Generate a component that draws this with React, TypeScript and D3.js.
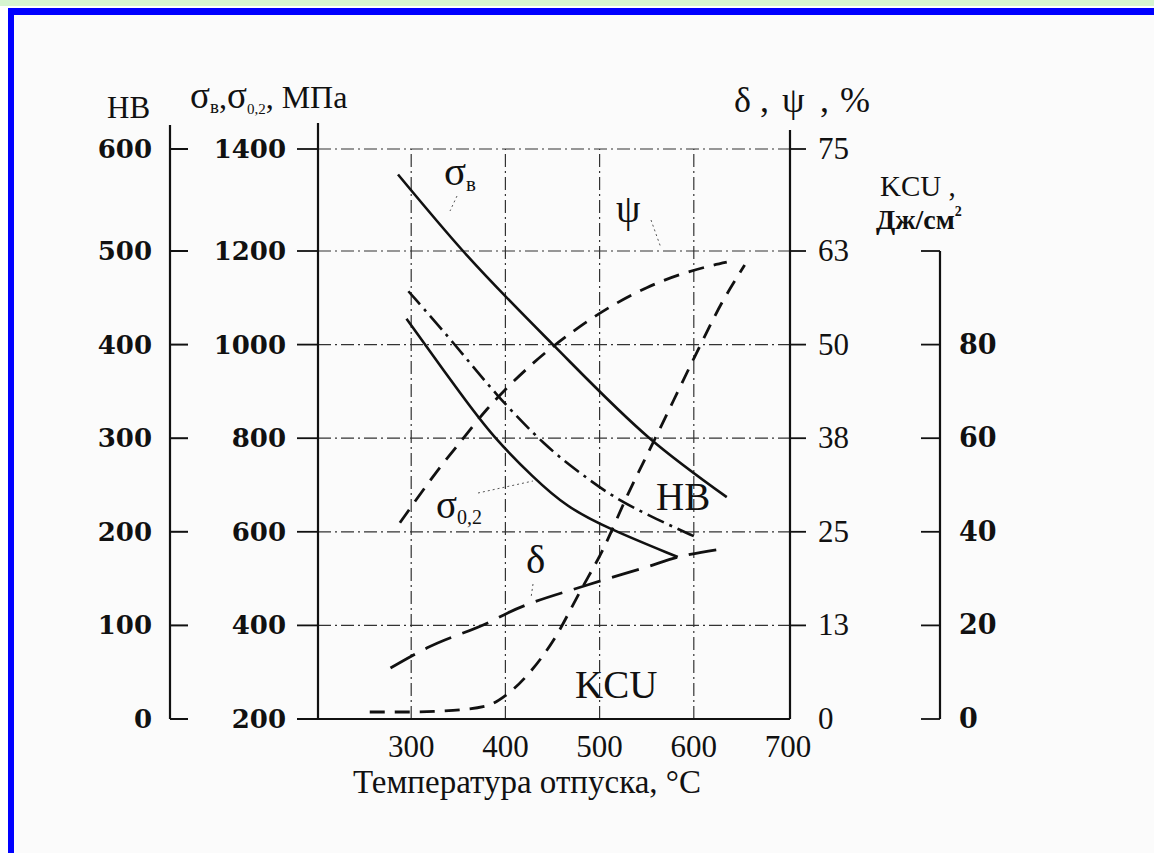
import React from 'react';
import * as d3 from 'd3';

// ---------- data ----------
const tempTicks = [300, 400, 500, 600, 700];
const gridTemps = [300, 400, 500, 600];
const sigmaTicks = [200, 400, 600, 800, 1000, 1200, 1400];
const hbTicks = [0, 100, 200, 300, 400, 500, 600];
const pctTicks = [0, 12.5, 25, 37.5, 50, 62.5, 75];
const pctTickLabels = ['0', '13', '25', '38', '50', '63', '75'];
const kcuTicks = [0, 20, 40, 60, 80, 100];
const kcuTickLabels = ['0', '20', '40', '60', '80', ''];

// [temperature °C, value]
const sigmaB: [number, number][] = [[286, 1350], [355, 1200], [450, 1001], [553, 800], [635, 674]];
const sigma02: [number, number][] = [[295, 1055], [357, 882], [387, 803], [429, 717], [465, 653], [508, 608], [583, 546]];
const hb: [number, number][] = [[297, 457], [346, 401], [390, 346], [444, 290], [479, 263], [514, 237], [561, 213], [603, 194]];
const delta: [number, number][] = [[278, 6.8], [317, 9.5], [384, 13.0], [403, 14.2], [487, 17.9], [550, 20.3], [583, 21.6], [635, 22.8]];
const psi: [number, number][] = [[288, 26.2], [327, 33.0], [354, 37.3], [380, 41.3], [424, 46.9], [479, 52.4], [550, 57.6], [614, 60.4], [635, 61.0]];
const kcu: [number, number][] = [[256, 1.5], [300, 1.5], [340, 1.8], [380, 2.8], [400, 5], [426, 10], [450, 16.5], [480, 27.5], [503, 36], [530, 48], [564, 62], [600, 77], [630, 89], [654, 97]];

// ---------- layout ----------
const W = 1154;
const H = 853;
const X0 = 317;
const X1 = 788;
const YB = 719;
const Y5 = 251;
const YT = 149;

const x = d3.scaleLinear().domain([200, 700]).range([X0, X1]);
const ySigma = d3.scaleLinear().domain([200, 1200, 1400]).range([YB, Y5, YT]);
const yHB = d3.scaleLinear().domain([0, 500, 600]).range([YB, Y5, YT]);
const yPct = d3.scaleLinear().domain([0, 62.5, 75]).range([YB, Y5, YT]);
const yKcu = d3.scaleLinear().domain([0, 100]).range([YB, Y5]);

const serif = '"Liberation Serif", "Times New Roman", serif';
const wide = '"DejaVu Serif", serif';

function mk(yScale: d3.ScaleLinear<number, number>, curve: d3.CurveFactory = d3.curveMonotoneX) {
  return d3
    .line<[number, number]>()
    .x((d) => x(d[0]))
    .y((d) => yScale(d[1]))
    .curve(curve);
}

export default function App() {
  const ink = '#111';
  const AX_HB = 170;
  const AX_S = 318;
  const AX_R = 790;
  const AX_K = 940;
  const gridDash = '13 4 2 4';
  return (
    <svg width={W} height={H} style={{ position: 'absolute', left: 0, top: 0 }} fontFamily={serif}>
      <rect x={0} y={0} width={W} height={H} fill="#fbfbfb" />
      <rect x={0} y={0} width={W} height={6} fill="#d6f5d0" />
      <rect x={0} y={6} width={W} height={2} fill="#ffffff" />
      <rect x={0} y={8} width={8} height={H} fill="#ffffff" />
      <rect x={8} y={8} width={W - 8} height={7} fill="#0000ff" />
      <rect x={8} y={8} width={6} height={H - 8} fill="#0000ff" />

      {/* horizontal grid */}
      {sigmaTicks.slice(1).map((t) => (
        <line key={'hg' + t} x1={AX_S} x2={AX_R} y1={ySigma(t)} y2={ySigma(t)} stroke="#333" strokeWidth={1.2} strokeDasharray={gridDash} />
      ))}
      {/* vertical grid */}
      {gridTemps.map((t) => (
        <line key={'vg' + t} x1={x(t)} x2={x(t)} y1={YB} y2={YT} stroke="#333" strokeWidth={1.2} strokeDasharray={gridDash} />
      ))}

      {/* HB axis */}
      <line x1={AX_HB} x2={AX_HB} y1={125} y2={YB} stroke={ink} strokeWidth={2.2} />
      {hbTicks.map((t) => (
        <g key={'hb' + t}>
          <line x1={AX_HB} x2={AX_HB + 18} y1={yHB(t)} y2={yHB(t)} stroke={ink} strokeWidth={2} />
          <text x={152} y={yHB(t) + 9} textAnchor="end" fontFamily={wide} fontWeight="bold" fontSize={26} fill={ink}>{t}</text>
        </g>
      ))}

      {/* sigma axis */}
      <line x1={AX_S} x2={AX_S} y1={123} y2={YB} stroke={ink} strokeWidth={2.2} />
      {sigmaTicks.map((t) => (
        <g key={'s' + t}>
          <line x1={AX_S - 21} x2={AX_S} y1={ySigma(t)} y2={ySigma(t)} stroke={ink} strokeWidth={1.8} />
          <text x={286} y={ySigma(t) + 9} textAnchor="end" fontFamily={wide} fontWeight="bold" fontSize={26} fill={ink}>{t}</text>
        </g>
      ))}

      {/* bottom axis */}
      <line x1={AX_S - 21} x2={AX_R} y1={YB} y2={YB} stroke={ink} strokeWidth={2.2} />
      {tempTicks.map((t) => (
        <text key={'xt' + t} x={x(t)} y={757} textAnchor="middle" fontSize={31} fill={ink}>{t}</text>
      ))}
      <text x={527} y={793} textAnchor="middle" fontSize={33} fill={ink}>Температура отпуска, °C</text>

      {/* right delta/psi axis */}
      <line x1={AX_R} x2={AX_R} y1={130} y2={YB} stroke={ink} strokeWidth={2.2} />
      {pctTicks.map((t, i) => (
        <g key={'p' + t}>
          {i > 0 && <line x1={AX_R} x2={AX_R + 16} y1={yPct(t)} y2={yPct(t)} stroke={ink} strokeWidth={1.8} />}
          <text x={818} y={yPct(t) + 10} fontSize={31} fill={ink}>{pctTickLabels[i]}</text>
        </g>
      ))}

      {/* KCU axis */}
      <line x1={AX_K} x2={AX_K} y1={Y5} y2={YB} stroke={ink} strokeWidth={2.2} />
      {kcuTicks.map((t, i) => (
        <g key={'k' + t}>
          <line x1={AX_K - 19} x2={AX_K} y1={yKcu(t)} y2={yKcu(t)} stroke={ink} strokeWidth={1.8} />
          <text x={959} y={yKcu(t) + 9} fontFamily={wide} fontWeight="bold" fontSize={27} fill={ink}>{kcuTickLabels[i]}</text>
        </g>
      ))}

      {/* axis titles */}
      <text x={107} y={118} fontSize={31} fill={ink}>HB</text>
      <text x={190} y={108} fontSize={32} fill={ink}>
        <tspan fontSize={37}>σ</tspan>
        <tspan fontSize={19} dy={5}>в</tspan>
        <tspan dy={-5}>,</tspan>
        <tspan fontSize={37}>σ</tspan>
        <tspan fontSize={15} dy={6}>0,2</tspan>
        <tspan dy={-6}>, МПа</tspan>
      </text>
      <text y={112} fontSize={36} fill={ink}>
        <tspan x={734}>δ</tspan>
        <tspan x={760}>,</tspan>
        <tspan x={782}>ψ</tspan>
        <tspan x={820}>,</tspan>
        <tspan x={840}>%</tspan>
      </text>
      <text x={880} y={196} fontSize={29} fill={ink}>KCU ,</text>
      <text x={876} y={229} fontSize={28} fontWeight="bold" fill={ink}>
        Дж/см<tspan fontSize={14} dy={-13}>2</tspan>
      </text>

      {/* curves */}
      <path d={mk(ySigma)(sigmaB) || ''} fill="none" stroke={ink} strokeWidth={2.6} />
      <path d={mk(ySigma, d3.curveBasis)(sigma02) || ''} fill="none" stroke={ink} strokeWidth={2.6} />
      <path d={mk(yHB, d3.curveBasis)(hb) || ''} fill="none" stroke={ink} strokeWidth={2.6} strokeDasharray="18 6 3 6" />
      <path d={mk(yPct)(psi) || ''} fill="none" stroke={ink} strokeWidth={2.8} strokeDasharray="16 10" />
      <path d={mk(yPct)(delta) || ''} fill="none" stroke={ink} strokeWidth={2.8} strokeDasharray="28 12" />
      <path d={mk(yKcu)(kcu) || ''} fill="none" stroke={ink} strokeWidth={2.8} strokeDasharray="15 10" />

      {/* curve labels */}
      <text x={444} y={185} fontSize={41} fill={ink}>
        σ<tspan fontSize={21} dy={6}>в</tspan>
      </text>
      <line x1={457} y1={196} x2={450} y2={211} stroke="#555" strokeWidth={1} strokeDasharray="2 3" />
      <text x={616} y={222} fontSize={39} fill={ink}>ψ</text>
      <line x1={651} y1={220} x2={661} y2={248} stroke="#555" strokeWidth={1} strokeDasharray="2 3" />
      <text x={436} y={518} fontSize={39} fill={ink}>
        σ<tspan fontSize={20} dy={6}>0,2</tspan>
      </text>
      <line x1={478} y1={493} x2={533} y2={481} stroke="#555" strokeWidth={1} strokeDasharray="2 3" />
      <text x={656} y={510} fontSize={39} fill={ink}>HB</text>
      <text x={526} y={573} fontSize={41} fill={ink}>δ</text>
      <line x1={533} y1={584} x2={531} y2={598} stroke="#555" strokeWidth={1} strokeDasharray="2 3" />
      <text x={575} y={698} fontSize={39} fill={ink}>KCU</text>
    </svg>
  );
}
